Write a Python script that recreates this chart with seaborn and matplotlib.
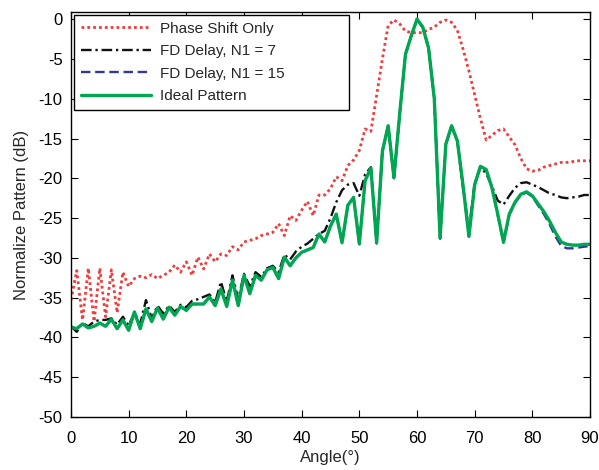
import numpy as np
import pandas as pd
import matplotlib
matplotlib.use("Agg")
import matplotlib.pyplot as plt
import seaborn as sns

# angle grid (1 degree steps)
angles = list(range(0, 91))

# Phase Shift Only (red dotted)
phase_only = [-35.3, -31.6, -37.8, -31.3, -38.0, -31.3, -37.4, -31.5, -36.9, -31.8,
              -33.6, -32.6, -32.3, -32.5, -32.1, -32.6, -32.2, -31.8, -30.9, -31.8,
              -30.5, -32.2, -29.9, -31.4, -29.5, -30.5, -29.5, -29.7, -28.6, -29.0,
              -28.0, -27.8, -27.6, -27.2, -27.0, -26.8, -25.7, -27.2, -24.7, -25.3,
              -24.0, -22.9, -24.7, -22.1, -22.1, -21.3, -19.8, -20.3, -18.4, -17.7,
              -16.5, -13.8, -14.1, -9.6, -5.0, -0.8, -0.1, -0.6, -1.5, -1.7,
              -1.7, -1.7, -1.3, -1.0, -0.4, -0.1, -0.4, -1.4, -3.8, -6.5,
              -9.5, -12.5, -15.2, -14.6, -14.0, -13.8, -14.8, -15.8, -17.5, -18.8,
              -19.1, -19.0, -18.6, -18.4, -18.2, -18.0, -18.0, -17.9, -17.8, -17.8,
              -17.8]

# FD Delay, N1 = 7 (black dash-dot)
fd_n7 = [-38.6, -39.3, -38.2, -38.6, -38.0, -37.8, -37.8, -37.6, -38.4, -37.4,
         -38.5, -36.9, -38.3, -35.3, -37.6, -36.0, -37.0, -36.0, -36.8, -35.9,
         -36.2, -35.4, -35.2, -34.9, -34.6, -35.6, -33.0, -35.5, -32.2, -35.2,
         -32.0, -33.6, -31.8, -32.4, -31.3, -31.0, -31.8, -29.6, -30.2, -29.2,
         -28.6, -28.2, -27.6, -27.0, -26.6, -25.0, -23.0, -21.5, -20.8, -20.6,
         -22.2, -19.5, -18.6, -28.0, -16.5, -13.4, -20.0, -11.9, -4.4, -2.1,
         0.0, -1.0, -3.6, -10.0, -27.3, -15.7, -13.4, -15.4, -21.3, -26.5,
         -20.6, -18.6, -19.4, -21.0, -22.8, -23.3, -22.2, -21.2, -20.6, -20.5,
         -20.8, -21.1, -21.5, -21.9, -22.1, -22.4, -22.5, -22.4, -22.3, -22.1,
         -22.1]

# FD Delay, N1 = 15 (blue dashed)
fd_n15 = [-38.7, -38.9, -38.3, -38.8, -38.6, -38.2, -38.6, -37.7, -38.9, -37.8,
          -39.1, -36.8, -38.9, -36.4, -38.0, -36.3, -37.7, -36.2, -37.2, -36.1,
          -36.6, -35.8, -35.8, -35.8, -34.9, -36.0, -33.9, -36.1, -32.8, -36.0,
          -32.2, -34.5, -32.2, -32.8, -31.5, -31.2, -32.6, -29.9, -31.0, -30.0,
          -29.3, -29.0, -28.7, -27.0, -28.0, -26.0, -24.5, -28.1, -23.4, -22.4,
          -28.3, -20.3, -18.7, -28.2, -16.6, -13.4, -19.9, -11.9, -4.4, -2.1,
          0.0, -1.0, -3.6, -10.0, -27.6, -15.7, -13.4, -15.3, -21.0, -27.3,
          -20.8, -18.5, -18.9, -21.2, -24.6, -28.1, -24.6, -23.1, -22.1, -21.8,
          -22.3, -23.4, -24.5, -25.8, -27.3, -28.5, -28.8, -28.8, -28.7, -28.6,
          -28.5]

# Ideal Pattern (green solid)
ideal = [-38.7, -38.9, -38.3, -38.8, -38.6, -38.2, -38.6, -37.7, -38.9, -37.8,
         -39.1, -36.8, -38.9, -36.4, -38.0, -36.3, -37.7, -36.2, -37.2, -36.1,
         -36.6, -35.8, -35.8, -35.8, -34.9, -36.0, -33.9, -36.1, -32.8, -36.0,
         -32.2, -34.5, -32.2, -32.8, -31.5, -31.2, -32.6, -29.9, -31.0, -30.0,
         -29.3, -29.0, -28.7, -27.0, -28.0, -26.0, -24.5, -28.1, -23.4, -22.4,
         -28.2, -20.3, -18.7, -28.1, -16.6, -13.4, -19.9, -11.9, -4.4, -2.1,
         0.0, -1.0, -3.6, -10.0, -27.5, -15.7, -13.4, -15.3, -21.0, -27.3,
         -20.8, -18.5, -18.9, -21.2, -24.5, -28.0, -24.5, -23.0, -22.0, -21.7,
         -22.2, -23.2, -24.2, -25.4, -26.8, -28.0, -28.3, -28.4, -28.4, -28.3,
         -28.3]

labels = ["Phase Shift Only", "FD Delay, N1 = 7", "FD Delay, N1 = 15", "Ideal Pattern"]
series = [phase_only, fd_n7, fd_n15, ideal]
colors = ["#f03c3c", "#111111", "#2e3a94", "#00a651"]
styles = [(0, (1, 1.1)), (0, (4.5, 1.6, 1, 1.6)), (0, (4, 2)), "-"]
widths = [2.0, 1.7, 1.7, 2.4]

sns.set_style("ticks")
plt.rcParams["font.family"] = ["Liberation Sans", "DejaVu Sans"]
plt.rcParams["axes.unicode_minus"] = False

fig = plt.figure(figsize=(5.99, 4.70), dpi=100)
ax = fig.add_axes([71 / 599, 1 - 417 / 470, 519 / 599, 405 / 470])

for lab, vals, col, ls, lw in zip(labels, series, colors, styles, widths):
    df = pd.DataFrame({"Angle": angles, "dB": vals})
    sns.lineplot(data=df, x="Angle", y="dB", ax=ax, color=col, linestyle=ls,
                 linewidth=lw, label=lab)

ax.set_xlim(0, 90)
ax.set_ylim(-50, 0.9)
ax.set_xticks(range(0, 91, 10))
ax.set_yticks(range(-50, 1, 5))
ax.tick_params(direction="in", length=5, width=0.8, top=True, right=True,
               labelsize=12, colors="black")
ax.tick_params(axis="x", pad=10)
ax.tick_params(axis="y", pad=6)
for sp in ax.spines.values():
    sp.set_visible(True)
    sp.set_linewidth(1.0)
    sp.set_color("black")
ax.set_xlabel("Angle(°)", fontsize=12, labelpad=3)
ax.set_ylabel("Normalize Pattern (dB)", fontsize=12, labelpad=7)

leg = ax.legend(loc="upper left", bbox_to_anchor=(0.006, 0.993, 0.53, 0.0),
                mode="expand", fontsize=11, handlelength=4.6, handletextpad=0.6,
                labelspacing=0.55, borderpad=0.45, fancybox=False, framealpha=1,
                edgecolor="black", borderaxespad=0)
leg.get_frame().set_linewidth(1.0)

fig.savefig("out.png", dpi=100)
